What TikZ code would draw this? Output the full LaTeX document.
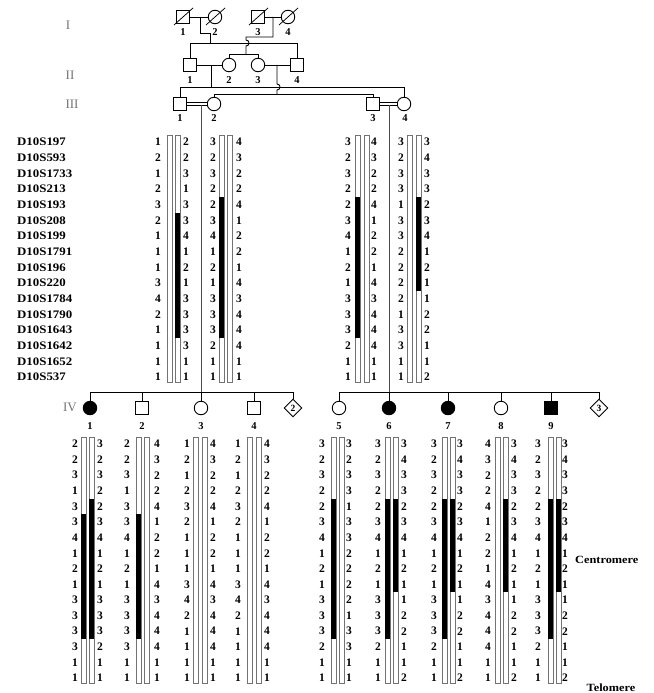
\documentclass[tikz,border=0pt]{standalone}
\usepackage{fontspec}
\setmainfont{Liberation Serif}
\newfontfamily\widefont[FakeStretch=1.12]{Liberation Serif}
\usetikzlibrary{shapes.geometric}

% one column of alleles: name prefix, x, y of first row, row step, values
\newcommand\allelecol[5]{%
  \foreach \a [count=\i] in {#5}
    \node[allele] (#1-\i) at (#2,{#3+#4*(\i-1)}) {\a};}
% one chromosome bar: left x, top, bottom
\newcommand\chrbar[3]{\draw[chrom] (#1,#2) rectangle ({#1+5},#3);}
% shared segment on a bar: left x, y of first row, row step, first row, last row
\newcommand\chrseg[5]{\fill[black] (#1,{#2+#3*(#4-1.5)}) rectangle ({#1+5},{#2+#3*(#5-0.5)});}

\begin{document}
\begin{tikzpicture}[x=1pt,y=-1pt,
  ped/.style={line width=0.9pt, draw=black},
  male/.style={rectangle, draw, line width=0.9pt, minimum size=13.5pt, inner sep=0pt, fill=white},
  female/.style={circle, draw, line width=0.9pt, minimum size=13.5pt, inner sep=0pt, fill=white},
  unknown/.style={diamond, draw, line width=0.9pt, minimum width=18pt, minimum height=18pt, inner sep=0pt, fill=white, font=\bfseries\fontsize{9.5}{9.5}\selectfont},
  affected/.style={fill=black},
  idnum/.style={font=\bfseries\fontsize{10.5}{10.5}\selectfont, inner sep=0pt},
  gen/.style={font=\fontsize{13}{13}\selectfont, text=black!55, inner sep=0pt},
  allele/.style={font=\bfseries\fontsize{11.5}{11.5}\selectfont, inner sep=0pt},
  marker/.style={font=\widefont\bfseries\fontsize{11.5}{11.5}\selectfont, inner sep=0pt, anchor=west},
  endlab/.style={font=\widefont\bfseries\fontsize{11}{11}\selectfont, inner sep=0pt},
  chrom/.style={draw=black!55, line width=0.7pt, fill=white},
  descent/.style={line width=0.9pt, draw=black!70},
  deceased/.style={line width=0.75pt, draw=black},
]
\useasboundingbox (0,0) rectangle (653,693);

% ---------- generation labels ----------
\node[gen] (gI)   at (68,25)  {I};
\node[gen] (gII)  at (70,75)  {II};
\node[gen] (gIII) at (72,104) {III};
\node[gen] (gIV)  at (70,407) {IV};

% ---------- generation I ----------
\node[male]   (I1) at (183,17) {};
\node[female] (I2) at (215,17) {};
\node[male]   (I3) at (258,17) {};
\node[female] (I4) at (288,17) {};
\foreach \n in {I1,I2,I3,I4}
  \draw[deceased] ([shift={(-9,8)}]\n.center) -- ([shift={(10,-9)}]\n.center);
\node[idnum] (lI1) at (183,32) {1};
\node[idnum] (lI2) at (215,32) {2};
\node[idnum] (lI3) at (258,32) {3};
\node[idnum] (lI4) at (288,32) {4};
\draw[ped] (I1) -- (I2);
\draw[ped] (I3) -- (I4);
\coordinate (cI12) at (200,17);
\coordinate (cI34) at (273,17);

% ---------- generation II ----------
\node[male]   (II1) at (190,65) {};
\node[female] (II2) at (229,65) {};
\node[female] (II3) at (258,65) {};
\node[male]   (II4) at (297,65) {};
\node[idnum] (lII1) at (190,80) {1};
\node[idnum] (lII2) at (229,80) {2};
\node[idnum] (lII3) at (258,80) {3};
\node[idnum] (lII4) at (297,80) {4};
\draw[ped] (II1) -- (II2);
\draw[ped] (II3) -- (II4);
\coordinate (cII12) at (211,65);
\coordinate (cII34) at (277,65);

% sibship of I-1 x I-2
\coordinate (sII) at (0,43);
\draw[ped] (cI12) -- (200,33) -- (210,33) -- (210,43);
\draw[ped] (II1.north) -- (II1 |- sII) -- (II4 |- sII) -- (II4.north);
% sibship of I-3 x I-4, hopping over the line above
\coordinate (sII2) at (0,54);
\draw[ped] (cI34) -- (273,37) -- (246,37) -- (246,40)
  .. controls (250,40) and (250,46) .. (246,46) -- (246,54);
\draw[ped] (II2.north) -- (II2 |- sII2) -- (II3 |- sII2) -- (II3.north);

% ---------- generation III ----------
\node[male]   (III1) at (180,104) {};
\node[female] (III2) at (214,104) {};
\node[male]   (III3) at (373,104) {};
\node[female] (III4) at (404,104) {};
\node[idnum] (lIII1) at (180,118) {1};
\node[idnum] (lIII2) at (214,118) {2};
\node[idnum] (lIII3) at (373,118) {3};
\node[idnum] (lIII4) at (405,118) {4};
\draw[ped, double, double distance=2.4pt] (III1) -- (III2);
\draw[ped, double, double distance=2.4pt] (III3) -- (III4);

\coordinate (sIIIa) at (0,87);
\coordinate (sIIIb) at (0,94);
\draw[ped] (cII12) -- (cII12 |- sIIIa);
\draw[ped] (III1.north) -- (III1 |- sIIIa) -- (III4 |- sIIIa) -- (III4.north);
\draw[ped] (cII34) -- (277,84) .. controls (281,84) and (281,90) .. (277,90) -- (cII34 |- sIIIb);
\draw[ped] (III2.north) -- (III2 |- sIIIb) -- (III3 |- sIIIb) -- (III3.north);

% ---------- marker names ----------
\foreach \m [count=\i] in {D10S197,D10S593,D10S1733,D10S213,D10S193,D10S208,D10S199,D10S1791,D10S196,D10S220,D10S1784,D10S1790,D10S1643,D10S1642,D10S1652,D10S537}
  \node[marker] (mk-\i) at (17,{142+15.67*(\i-1)}) {\m};

% ---------- descents to generation IV ----------
\coordinate (sIV) at (0,392);
\coordinate (cIII12) at (201,105);
\coordinate (cIII34) at (389,105);
\draw[descent] (cIII12) -- (cIII12 |- sIV);
\draw[descent] (cIII34) -- (cIII34 |- sIV);

% ---------- haplotypes, generation III ----------
\allelecol{h31L}{158}{142}{15.67}{1,2,1,2,3,2,1,1,1,3,4,2,1,1,1,1}
\allelecol{h31R}{186}{142}{15.67}{2,2,3,1,3,3,4,1,2,1,3,3,3,3,1,1}
\chrbar{167}{135}{382}\chrbar{175}{135}{382}
\chrseg{175}{142}{15.67}{6}{13}

\allelecol{h32L}{213}{142}{15.67}{3,2,3,2,2,3,4,1,2,1,3,3,3,2,1,1}
\allelecol{h32R}{239}{142}{15.67}{4,3,2,2,4,1,2,2,1,4,3,4,4,4,1,1}
\chrbar{219}{135}{382}\chrbar{227}{135}{382}
\chrseg{219}{142}{15.67}{5}{13}

\allelecol{h33L}{348}{142}{15.67}{3,2,3,2,2,3,4,1,2,1,3,3,3,2,1,1}
\allelecol{h33R}{374}{142}{15.67}{4,3,2,2,4,1,2,2,1,4,3,4,4,4,1,1}
\chrbar{355}{135}{382}\chrbar{364}{135}{382}
\chrseg{355}{142}{15.67}{5}{13}

\allelecol{h34L}{401}{142}{15.67}{3,2,3,3,1,3,3,2,2,2,2,1,3,3,1,1}
\allelecol{h34R}{427}{142}{15.67}{3,4,3,3,2,3,4,1,2,1,1,2,2,1,1,2}
\chrbar{407}{135}{382}\chrbar{416}{135}{382}
\chrseg{416}{142}{15.67}{5}{10}

% ---------- generation IV ----------
\node[female, affected] (IV1) at (90,408)  {};
\node[male]             (IV2) at (142,408) {};
\node[female]           (IV3) at (201,408) {};
\node[male]             (IV4) at (254,408) {};
\node[unknown]          (U2)  at (293,408) {2};
\node[female]           (IV5) at (339,408) {};
\node[female, affected] (IV6) at (389,408) {};
\node[female, affected] (IV7) at (448,408) {};
\node[female]           (IV8) at (501,408) {};
\node[male, affected]   (IV9) at (551,408) {};
\node[unknown]          (U3)  at (599,408) {3};
\foreach \n/\t in {IV1/1,IV2/2,IV3/3,IV4/4,IV5/5,IV6/6,IV7/7,IV8/8,IV9/9}
  \node[idnum] (l\n) at (\n |- 0,426) {\t};

\draw[ped] (IV1 |- sIV) -- (U2 |- sIV);
\draw[ped] (IV5 |- sIV) -- (U3 |- sIV);
\foreach \n in {IV1,IV2,IV3,IV4,U2,IV5,IV6,IV7,IV8,IV9,U3}
  \draw[ped] (\n |- sIV) -- (\n.north);

% ---------- haplotypes, generation IV ----------
\allelecol{h41L}{75}{444}{15.6}{2,2,3,1,3,3,4,1,2,1,3,3,3,3,1,1}
\allelecol{h41R}{100}{444}{15.6}{3,2,3,2,2,3,4,1,2,1,3,3,3,2,1,1}
\chrbar{81}{437}{683}\chrbar{89}{437}{683}
\chrseg{81}{444}{15.6}{6}{13}\chrseg{89}{444}{15.6}{5}{13}

\allelecol{h42L}{127}{444}{15.6}{2,2,3,1,3,3,4,1,2,1,3,3,3,3,1,1}
\allelecol{h42R}{157}{444}{15.6}{4,3,2,2,4,1,2,2,1,4,3,4,4,4,1,1}
\chrbar{136}{437}{683}\chrbar{144}{437}{683}
\chrseg{136}{444}{15.6}{6}{13}

\allelecol{h43L}{187}{444}{15.6}{1,2,1,2,3,2,1,1,1,3,4,2,1,1,1,1}
\allelecol{h43R}{213}{444}{15.6}{4,3,2,2,4,1,2,2,1,4,3,4,4,4,1,1}
\chrbar{193}{437}{683}\chrbar{202}{437}{683}

\allelecol{h44L}{238}{444}{15.6}{1,2,1,2,3,2,1,1,1,3,4,2,1,1,1,1}
\allelecol{h44R}{267}{444}{15.6}{4,3,2,2,4,1,2,2,1,4,3,4,4,4,1,1}
\chrbar{247}{437}{683}\chrbar{256}{437}{683}

\allelecol{h45L}{322}{444}{15.6}{3,2,3,2,2,3,4,1,2,1,3,3,3,2,1,1}
\allelecol{h45R}{349}{444}{15.6}{3,2,3,3,1,3,3,2,2,2,2,1,3,3,1,1}
\chrbar{331}{437}{683}\chrbar{339}{437}{683}
\chrseg{331}{444}{15.6}{5}{13}

\allelecol{h46L}{378}{444}{15.6}{3,2,3,2,2,3,4,1,2,1,3,3,3,2,1,1}
\allelecol{h46R}{404}{444}{15.6}{3,4,3,3,2,3,4,1,2,1,1,2,2,1,1,2}
\chrbar{385}{437}{683}\chrbar{393}{437}{683}
\chrseg{385}{444}{15.6}{5}{13}\chrseg{393}{444}{15.6}{5}{10}

\allelecol{h47L}{434}{444}{15.6}{3,2,3,2,2,3,4,1,2,1,3,3,3,2,1,1}
\allelecol{h47R}{460}{444}{15.6}{3,4,3,3,2,3,4,1,2,1,1,2,2,1,1,2}
\chrbar{442}{437}{683}\chrbar{450}{437}{683}
\chrseg{442}{444}{15.6}{5}{13}\chrseg{450}{444}{15.6}{5}{10}

\allelecol{h48L}{488}{444}{15.6}{4,3,2,2,4,1,2,2,1,4,3,4,4,4,1,1}
\allelecol{h48R}{514}{444}{15.6}{3,4,3,3,2,3,4,1,2,1,1,2,2,1,1,2}
\chrbar{495}{437}{683}\chrbar{503}{437}{683}
\chrseg{503}{444}{15.6}{5}{10}

\allelecol{h49L}{538}{444}{15.6}{3,2,3,2,2,3,4,1,2,1,3,3,3,2,1,1}
\allelecol{h49R}{565}{444}{15.6}{3,4,3,3,2,3,4,1,2,1,1,2,2,1,1,2}
\chrbar{548}{437}{683}\chrbar{556}{437}{683}
\chrseg{548}{444}{15.6}{5}{13}\chrseg{556}{444}{15.6}{5}{10}

% ---------- chromosome ends ----------
\node[endlab, anchor=west] (cen) at (575,560) {Centromere};
\node[endlab] (tel) at (611,688) {Telomere};
\end{tikzpicture}
\end{document}
